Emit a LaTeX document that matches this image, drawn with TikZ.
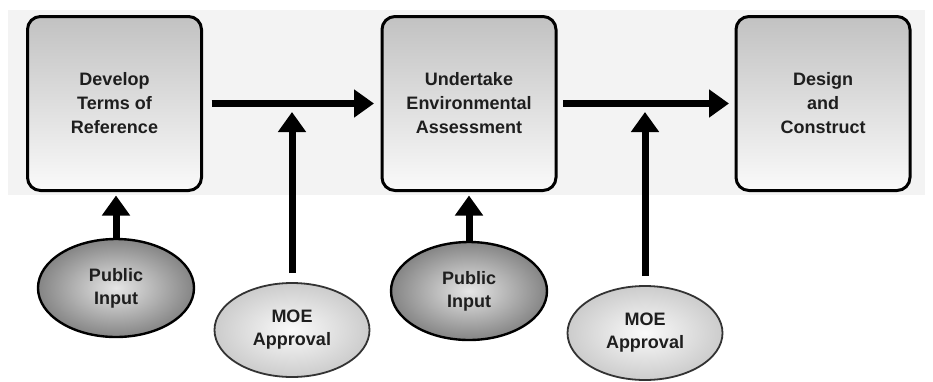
\documentclass[tikz,border=0pt]{standalone}
\usepackage{fontspec}
\setmainfont{Liberation Sans}
\usetikzlibrary{arrows.meta,shapes.geometric,shadings}
\definecolor{band}{HTML}{F3F3F3}
\definecolor{txt}{HTML}{1E1E1E}
\tikzset{
  stage/.style={draw=black, line width=3pt, rounded corners=13pt, outer sep=0pt,
    minimum width=174pt, minimum height=174pt, inner sep=0pt,
    top color=black!24, bottom color=black!2, shading angle=0,
    align=center, text=txt, font=\bfseries\fontsize{18}{24}\selectfont},
  pubin/.style={ellipse, draw=black, line width=2.4pt, outer sep=0pt, inner sep=0pt,
    minimum width=156pt, minimum height=98pt,
    inner color=black!10, outer color=black!48,
    align=center, text=txt, font=\bfseries\fontsize{18}{23}\selectfont},
  moe/.style={ellipse, draw=black!80, line width=1.8pt, outer sep=0pt, inner sep=0pt,
    minimum width=155pt, minimum height=94pt,
    inner color=black!2, outer color=black!20,
    align=center, text=txt, font=\bfseries\fontsize{18}{23}\selectfont},
  flow/.style={line width=7pt, -{Triangle[length=20pt,width=27pt]}},
}
\begin{document}
\begin{tikzpicture}[x=1pt,y=-1pt]
\useasboundingbox (0,0) rectangle (933,381);
\fill[band] (8,10) rectangle (925,195);
\node[stage] (b1) at (114.5,103.5) {Develop\\Terms of\\Reference};
\node[stage] (b2) at (469,103.5) {Undertake\\Environmental\\Assessment};
\node[stage] (b3) at (823,103.5) {Design\\and\\Construct};
\node[pubin] (pi1) at (116,288) {Public\\Input};
\node[pubin] (pi2) at (469,291) {Public\\Input};
\node[moe] (m1) at (292,330) {MOE\\Approval};
\node[moe] (m2) at (645,333) {MOE\\Approval};
\coordinate (j1) at (292,112);
\coordinate (j2) at (645,112);
\draw[flow, shorten <=10pt, shorten >=8pt] (b1) -- (b2);
\draw[flow, shorten <=7pt, shorten >=7pt] (b2) -- (b3);
\draw[flow, shorten <=10pt] (m1) -- (j1);
\draw[flow, shorten <=10pt] (m2) -- (j2);
\draw[flow, shorten >=5pt] (pi1) -- (pi1 |- b1.south);
\draw[flow, shorten >=5pt] (pi2) -- (pi2 |- b2.south);
\end{tikzpicture}
\end{document}
